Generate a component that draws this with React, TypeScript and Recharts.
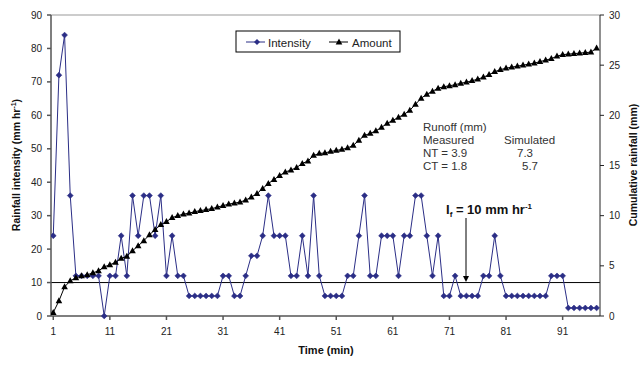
import React from 'react';
import { ComposedChart, Line, XAxis, YAxis, ReferenceLine } from 'recharts';

const minutes = [
  1, 2, 3, 4, 5, 6, 7, 8, 9, 10, 11, 12, 13, 14, 15, 16, 17, 18, 19, 20,
  21, 22, 23, 24, 25, 26, 27, 28, 29, 30, 31, 32, 33, 34, 35, 36, 37, 38, 39, 40,
  41, 42, 43, 44, 45, 46, 47, 48, 49, 50, 51, 52, 53, 54, 55, 56, 57, 58, 59, 60,
  61, 62, 63, 64, 65, 66, 67, 68, 69, 70, 71, 72, 73, 74, 75, 76, 77, 78, 79, 80,
  81, 82, 83, 84, 85, 86, 87, 88, 89, 90, 91, 92, 93, 94, 95, 96, 97,
];

// Rainfall intensity (mm hr-1)
const intensity = [
  24, 72, 84, 36, 12, 12, 12, 12, 12, 0,
  12, 12, 24, 12, 36, 24, 36, 36, 24, 36,
  12, 24, 12, 12, 6, 6, 6, 6, 6, 6,
  12, 12, 6, 6, 12, 18, 18, 24, 36, 24,
  24, 24, 12, 12, 24, 12, 36, 12, 6, 6,
  6, 6, 12, 12, 24, 36, 12, 12, 24, 24,
  24, 12, 24, 24, 36, 36, 24, 12, 24, 6,
  6, 12, 6, 6, 6, 6, 12, 12, 24, 12,
  6, 6, 6, 6, 6, 6, 6, 6, 12, 12,
  12, 2.4, 2.4, 2.4, 2.4, 2.4, 2.4,
];

// Cumulative rainfall (mm)
const amount = [
  0.35, 1.5, 2.9, 3.5, 3.8, 4.0, 4.1, 4.3, 4.5, 4.9,
  5.1, 5.35, 5.75, 5.95, 6.5, 7.0, 7.5, 8.1, 8.6, 9.1,
  9.4, 9.8, 10.0, 10.15, 10.25, 10.4, 10.5, 10.6, 10.7, 10.85,
  11.0, 11.15, 11.25, 11.35, 11.55, 11.85, 12.2, 12.7, 13.2, 13.6,
  14.0, 14.35, 14.55, 14.8, 15.2, 15.45, 16.0, 16.2, 16.25, 16.4,
  16.5, 16.6, 16.75, 17.0, 17.5, 18.0, 18.2, 18.45, 18.8, 19.2,
  19.5, 19.8, 20.1, 20.5, 21.1, 21.7, 22.1, 22.4, 22.7, 22.85,
  22.95, 23.05, 23.2, 23.3, 23.45, 23.6, 23.8, 24.05, 24.35, 24.55,
  24.7, 24.8, 24.9, 25.0, 25.1, 25.2, 25.35, 25.5, 25.65, 25.9,
  26.05, 26.1, 26.15, 26.2, 26.25, 26.3, 26.7,
];

const xTicks = [1, 11, 21, 31, 41, 51, 61, 71, 81, 91];
const leftTicks = [0, 10, 20, 30, 40, 50, 60, 70, 80, 90];
const rightTicks = [0, 5, 10, 15, 20, 25, 30];
const thresholdIntensity = 10;

const data = minutes.map((m, i) => ({ minute: m, intensity: intensity[i], amount: amount[i] }));

const NAVY = '#2B2E86';
const FONT = 'Arial, "Liberation Sans", sans-serif';

const Diamond = (props: any) => {
  const { cx, cy, index } = props;
  if (cx == null || cy == null) return <g key={`d${index}`} />;
  const r = 2.9;
  return (
    <polygon
      key={`d${index}`}
      points={`${cx},${cy - r} ${cx + r},${cy} ${cx},${cy + r} ${cx - r},${cy}`}
      fill={NAVY}
      stroke={NAVY}
      strokeWidth={0.6}
    />
  );
};

const Tri = (props: any) => {
  const { cx, cy, index } = props;
  if (cx == null || cy == null) return <g key={`t${index}`} />;
  return (
    <polygon
      key={`t${index}`}
      points={`${cx},${cy - 3.6} ${cx + 3.3},${cy + 2.4} ${cx - 3.3},${cy + 2.4}`}
      fill="#000"
    />
  );
};

export default function App() {
  return (
    <div style={{ position: 'absolute', left: 0, top: 0, width: 641, height: 372, background: '#fff' }}>
      <ComposedChart
        width={641}
        height={372}
        data={data}
        margin={{ top: 15, right: 0, bottom: 0, left: 0 }}
      >
        <XAxis
          dataKey="minute"
          type="number"
          domain={[0.6, 97.6]}
          ticks={xTicks}
          allowDataOverflow
          height={56}
          tickSize={4}
          tickMargin={8}
          stroke="#555"
          strokeWidth={1.5}
          tick={{ fontSize: 10, fill: '#222', fontFamily: FONT }}
          interval={0}
        />
        <YAxis
          yAxisId="left"
          domain={[0, 90]}
          ticks={leftTicks}
          width={51}
          tickSize={4}
          tickMargin={5}
          stroke="#555"
          strokeWidth={1.5}
          tick={{ fontSize: 10, fill: '#222', fontFamily: FONT }}
          interval={0}
        />
        <YAxis
          yAxisId="right"
          orientation="right"
          domain={[0, 30]}
          ticks={rightTicks}
          width={41}
          tickSize={4}
          tickMargin={5}
          stroke="#222"
          strokeWidth={1}
          tick={{ fontSize: 10, fill: '#222', fontFamily: FONT }}
          interval={0}
        />
        <ReferenceLine yAxisId="left" y={90} stroke="#999" strokeWidth={1} />
        <ReferenceLine yAxisId="left" y={thresholdIntensity} stroke="#000" strokeWidth={1} />
        <Line
          yAxisId="left"
          dataKey="intensity"
          stroke={NAVY}
          strokeWidth={1}
          dot={Diamond}
          activeDot={false}
          isAnimationActive={false}
        />
        <Line
          yAxisId="right"
          dataKey="amount"
          stroke="#000"
          strokeWidth={1}
          dot={Tri}
          activeDot={false}
          isAnimationActive={false}
        />
      </ComposedChart>
      <svg
        width={641}
        height={372}
        style={{ position: 'absolute', left: 0, top: 0, pointerEvents: 'none' }}
        fontFamily={FONT}
      >
        {/* Legend */}
        <g transform="translate(236,31)">
          <rect x={0} y={0} width={164} height={21} fill="#fff" stroke="#000" strokeWidth={1} />
          <line x1={10} y1={11} x2={29} y2={11} stroke={NAVY} strokeWidth={1} />
          <polygon points="21,8 24,11 21,14 18,11" fill={NAVY} />
          <text x={32} y={15.5} fontSize={11.5} fill="#222">Intensity</text>
          <line x1={93} y1={11} x2={112} y2={11} stroke="#000" strokeWidth={1} />
          <polygon points="103,7.4 106.3,13.4 99.7,13.4" fill="#000" />
          <text x={116} y={15.5} fontSize={11.5} fill="#222">Amount</text>
        </g>
        {/* Axis titles */}
        <text
          transform="translate(20,165) rotate(-90)"
          textAnchor="middle"
          fontSize={10.5}
          fontWeight="bold"
          fill="#111"
        >
          Rainfall intensity (mm hr<tspan fontSize={7} dy={-4}>-1</tspan><tspan dy={4}>)</tspan>
        </text>
        <text
          transform="translate(637,165) rotate(-90)"
          textAnchor="middle"
          fontSize={10.5}
          fontWeight="bold"
          fill="#111"
        >
          Cumulative rainfall (mm)
        </text>
        <text x={326} y={354} textAnchor="middle" fontSize={11} fontWeight="bold" fill="#111">
          Time (min)
        </text>
        {/* Runoff annotation */}
        <g fontSize={11.5} fill="#333">
          <text x={423} y={131}>Runoff (mm)</text>
          <text x={423} y={144}>Measured</text>
          <text x={504} y={144}>Simulated</text>
          <text x={423} y={157}>NT = 3.9</text>
          <text x={517} y={157}>7.3</text>
          <text x={423} y={170}>CT = 1.8</text>
          <text x={522} y={170}>5.7</text>
        </g>
        {/* Threshold annotation */}
        <text x={446} y={213.5} fontSize={13} fontWeight="bold" fill="#111">
          I<tspan fontSize={8} dy={3}>f</tspan><tspan dy={-3}> = 10 mm hr</tspan><tspan fontSize={8} dy={-5}>-1</tspan>
        </text>
        <line x1={466} y1={218} x2={466} y2={277} stroke="#000" strokeWidth={1} />
        <polygon points="463,276 469,276 466,282" fill="#000" />
      </svg>
    </div>
  );
}
